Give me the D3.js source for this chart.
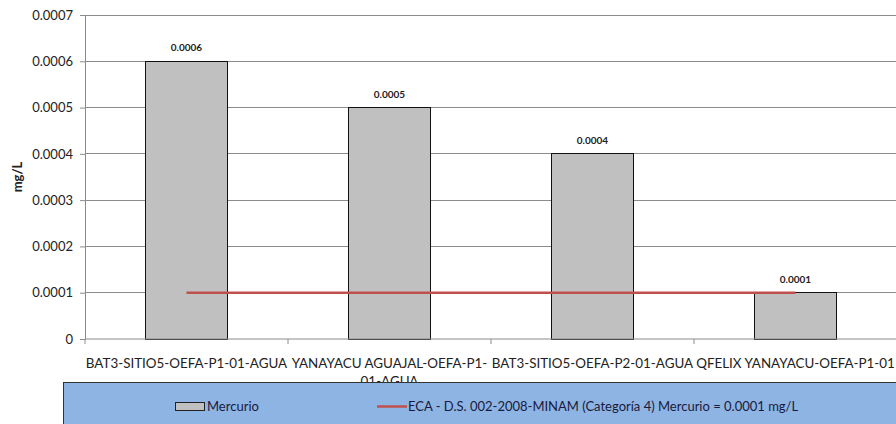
<!DOCTYPE html>
<html><head><meta charset="utf-8">
<script src="https://cdn.jsdelivr.net/npm/d3@7"></script>
<style>body{margin:0;background:#fff}svg{display:block}text{font-family:Lato,"Open Sans",sans-serif}</style>
</head><body>
<svg id="c" width="896" height="424"></svg>
<script>
const categories = [
  ["BAT3-SITIO5-OEFA-P1-01-AGUA"],
  ["YANAYACU AGUAJAL-OEFA-P1-", "01-AGUA"],
  ["BAT3-SITIO5-OEFA-P2-01-AGUA"],
  ["QFELIX YANAYACU-OEFA-P1-01"]
];
const mercurio = [0.0006, 0.0005, 0.0004, 0.0001];
const eca = [0.0001, 0.0001, 0.0001, 0.0001];
const yTicks = [0, 0.0001, 0.0002, 0.0003, 0.0004, 0.0005, 0.0006, 0.0007];
const yTickLabels = ["0", "0.0001", "0.0002", "0.0003", "0.0004", "0.0005", "0.0006", "0.0007"];
const seriesNames = ["Mercurio", "ECA - D.S. 002-2008-MINAM (Categoría 4) Mercurio = 0.0001 mg/L"];

const svg = d3.select("#c");
const L = 85, R = 897, T = 15, B = 339;
const x = d3.scaleBand().domain(d3.range(categories.length)).range([L, R]).paddingInner(0.6).paddingOuter(0.3);
const xb = d3.scaleBand().domain(d3.range(categories.length)).range([L, R]);
const y = d3.scaleLinear().domain([0, 0.0007]).range([B, T]);

// gridlines
svg.append("g").selectAll("line").data(yTicks.slice(1)).join("line")
  .attr("x1", L).attr("x2", R).attr("y1", d => y(d)).attr("y2", d => y(d))
  .attr("stroke", "#8c8c8c").attr("stroke-width", 1).attr("shape-rendering", "crispEdges");

// y axis
const ya = svg.append("g").attr("transform", `translate(${L},0)`)
  .call(d3.axisLeft(y).tickValues(yTicks).tickFormat((d, i) => yTickLabels[i]).tickSize(5).tickPadding(7));
ya.select(".domain").attr("stroke", "#8c8c8c");
ya.selectAll(".tick line").attr("stroke", "#8c8c8c");
ya.selectAll("text").attr("font-size", 13).attr("fill", "#222").style("font-family", "Lato");

// bars
svg.append("g").selectAll("rect").data(mercurio).join("rect")
  .attr("x", (d, i) => x(i)).attr("width", x.bandwidth())
  .attr("y", d => y(d)).attr("height", d => y(0) - y(d))
  .attr("fill", "#c0c0c0").attr("stroke", "#111").attr("stroke-width", 1).attr("shape-rendering", "crispEdges");

// data labels
svg.append("g").selectAll("text").data(mercurio).join("text")
  .attr("x", (d, i) => x(i) + x.bandwidth() / 2).attr("y", d => y(d) - 10)
  .attr("text-anchor", "middle").attr("font-size", 10).attr("font-weight", "bold").attr("fill", "#222")
  .text(d => d.toFixed(4));

// x axis
const xa = svg.append("g").attr("transform", `translate(0,${B})`);
xa.append("line").attr("x1", L).attr("x2", R).attr("stroke", "#8c8c8c");
xa.selectAll("line.t").data(d3.range(categories.length + 1)).join("line").attr("class", "t")
  .attr("x1", i => L + i * xb.step()).attr("x2", i => L + i * xb.step()).attr("y1", 0).attr("y2", 5).attr("stroke", "#8c8c8c");
const xl = xa.selectAll("text").data(categories).join("text")
  .attr("x", (d, i) => xb(i) + xb.bandwidth() / 2).attr("y", 29)
  .attr("text-anchor", "middle").attr("font-size", 13.4).attr("fill", "#222");
xl.selectAll("tspan").data(d => d).join("tspan")
  .attr("x", function () { return d3.select(this.parentNode).attr("x"); })
  .attr("dy", (d, i) => i === 0 ? 0 : 18).text(d => d);

// ECA line
svg.append("path").datum(eca)
  .attr("d", d3.line().x((d, i) => x(i) + x.bandwidth() / 2).y(d => y(d)))
  .attr("fill", "none").attr("stroke", "#c0504d").attr("stroke-width", 2.5);

// y label
svg.append("text").attr("transform", `translate(22,${(T + B) / 2}) rotate(-90)`)
  .attr("text-anchor", "middle").attr("font-size", 13).attr("font-weight", "bold").attr("fill", "#222").text("mg/L");

// legend
const lg = svg.append("g");
lg.append("rect").attr("x", 63.5).attr("y", 382.5).attr("width", 840).attr("height", 50)
  .attr("fill", "#8db4e2").attr("stroke", "#333").attr("stroke-width", 1);
lg.append("rect").attr("x", 175.5).attr("y", 402.5).attr("width", 29).attr("height", 8)
  .attr("fill", "#c0c0c0").attr("stroke", "#222").attr("stroke-width", 1);
lg.append("text").attr("x", 207).attr("y", 411).attr("font-size", 13).attr("fill", "#1a1a40").text(seriesNames[0]);
lg.append("line").attr("x1", 377).attr("x2", 407).attr("y1", 406.5).attr("y2", 406.5).attr("stroke", "#c0504d").attr("stroke-width", 2.5);
lg.append("text").attr("x", 408).attr("y", 411).attr("font-size", 13).attr("fill", "#1a1a40").text(seriesNames[1]);
</script>
</body></html>
